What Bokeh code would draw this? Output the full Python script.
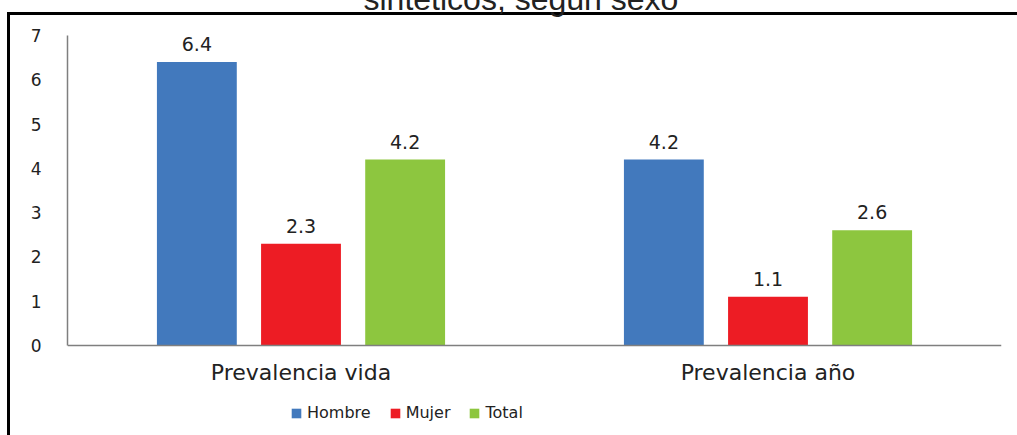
from bokeh.plotting import figure
from bokeh.models import (ColumnDataSource, FactorRange, Range1d, Legend, LegendItem,
                          LabelSet)
from bokeh.core.properties import value
from bokeh.transform import dodge
from bokeh.embed import file_html
from bokeh.resources import INLINE

categories = ["Prevalencia vida", "Prevalencia año"]
series = ["Hombre", "Mujer", "Total"]
hombre = [6.4, 4.2]
mujer = [2.3, 1.1]
total = [4.2, 2.6]
colors = ["#4279BD", "#ED1C24", "#8DC63F"]
y_ticks = [0, 1, 2, 3, 4, 5, 6, 7]
title_text = "sintéticos, según sexo"

FONT = "DejaVu Sans"
TXT = "#222222"
SHIFT = 46  # the page is a crop: the top of the chart (title) lies above the window

src = ColumnDataSource(dict(
    cat=categories, Hombre=hombre, Mujer=mujer, Total=total,
    lHombre=[f"{v:.1f}" for v in hombre],
    lMujer=[f"{v:.1f}" for v in mujer],
    lTotal=[f"{v:.1f}" for v in total],
))

p = figure(x_range=FactorRange(*categories, range_padding=0),
           y_range=Range1d(-2.032, 7),
           width=1017, height=435 + SHIFT, output_backend="svg", toolbar_location=None,
           min_border_left=67, min_border_right=16, min_border_top=35 + SHIFT,
           min_border_bottom=0)
p.title.text = title_text
p.title.align = "left"
p.title.offset = 296
p.title.text_font = "Liberation Sans"
p.title.text_font_style = "normal"
p.title.text_font_size = "32px"
p.title.text_color = TXT
p.title.standoff = 38

p.outline_line_color = None
p.xgrid.grid_line_color = None
p.ygrid.grid_line_color = None
p.border_fill_color = None
p.background_fill_color = "white"
p.styles = {
    "margin-top": f"-{SHIFT}px",
    "background": f"linear-gradient(#000,#000) 7px {12 + SHIFT}px / 3px 100% no-repeat, "
                  f"linear-gradient(#000,#000) 7px {12 + SHIFT}px / 100% 3px no-repeat, #fff"
}

offsets = [-0.223, 0.0, 0.223]
items = []
for s, off, c in zip(series, offsets, colors):
    r = p.vbar(x=dodge("cat", off, range=p.x_range), top=s, width=0.171, source=src,
               fill_color=c, line_color=None)
    items.append(LegendItem(label=s, renderers=[r]))
    lbl = LabelSet(x=dodge("cat", off, range=p.x_range), y=s, text="l" + s, source=src,
                   text_align="center", text_baseline="bottom", y_offset=11,
                   text_font=value(FONT), text_font_size="19px", text_color=TXT)
    p.add_layout(lbl)

p.yaxis.ticker = y_ticks
p.yaxis.bounds = (0, 7)
p.yaxis.major_tick_line_color = None
p.yaxis.minor_tick_line_color = None
p.yaxis.axis_line_color = "#7F7F7F"
p.yaxis.axis_line_width = 1.5
p.yaxis.major_label_standoff = 20
p.yaxis.major_label_text_font = FONT
p.yaxis.major_label_text_font_size = "17px"
p.yaxis.major_label_text_color = TXT

p.xaxis.fixed_location = 0
p.xaxis.major_tick_line_color = None
p.xaxis.axis_line_color = "#7F7F7F"
p.xaxis.axis_line_width = 1.5
p.xaxis.major_label_standoff = 8
p.xaxis.major_label_text_font = FONT
p.xaxis.major_label_text_font_size = "22px"
p.xaxis.major_label_text_color = TXT

legend = Legend(items=items, orientation="horizontal", location=(223, 13),
                glyph_width=12, glyph_height=12, label_text_font=FONT,
                label_text_font_size="16px", label_text_color=TXT,
                spacing=18, label_standoff=5, padding=4, margin=0,
                border_line_color=None, background_fill_alpha=0)
p.add_layout(legend, "center")

open("out.html", "w").write(file_html(p, INLINE))
